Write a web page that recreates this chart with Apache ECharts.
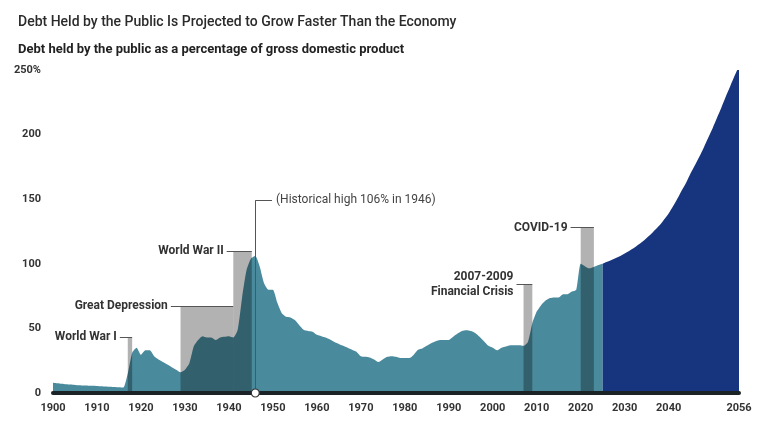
<!DOCTYPE html>
<html>
<head>
<meta charset="utf-8">
<title>Debt Held by the Public</title>
<script src="https://cdn.jsdelivr.net/npm/echarts@6/dist/echarts.min.js"></script>
<style>
  html, body { margin: 0; padding: 0; background: #fff; }
  #chart { width: 760px; height: 428px; }
</style>
</head>
<body>
<div id="chart"></div>
<script>
// debt held by the public, % of GDP
var histStart = 1900;
var histDebt = [
  8, 7.6, 7.2, 6.8, 6.5, 6.2, 6, 5.8, 5.7, 5.6,          // 1900s
  5.4, 5.2, 5, 4.8, 4.6, 4.4, 4.2, 15, 31, 35,           // 1910s
  29.5, 33, 33, 28.5, 26, 24, 22, 20, 18, 16,            // 1920s
  18, 23, 36, 41, 44, 43, 43, 41, 43, 43.5,              // 1930s
  44, 43, 49, 74, 95, 104, 106, 98, 85, 80,              // 1940s
  80, 70, 62, 59, 58.5, 56.5, 52.5, 49, 48, 47.5,        // 1950s
  45, 44, 43, 41.5, 39.5, 38, 36.5, 35, 33.5, 32,        // 1960s
  28.5, 28, 27.5, 26, 24, 26, 28, 28.5, 28, 27,          // 1970s
  27, 27, 29.5, 33.5, 34.5, 36.5, 38.5, 40, 41, 41,      // 1980s
  41, 43.5, 46, 48, 48.5, 48, 46.5, 43.5, 40, 36.5,      // 1990s
  35, 33, 35, 36, 37, 37, 37, 36.5, 39.5, 54,            // 2000s
  63, 68, 71.5, 73.5, 74, 74, 76.5, 76.5, 78.5, 80,      // 2010s
  100, 98, 96.5, 97.5, 99, 100                           // 2020-2025
];
var projStart = 2025;
var projDebt = [
  100, 101.5, 103, 104.5, 106, 108, 110, 112, 114.5, 117,
  120, 123, 126.5, 130, 134.5, 139, 144.5, 150.5, 157, 163,
  170, 176.5, 183, 190, 197.5, 205, 213, 221, 229.5, 237.5,
  245.5, 253
];

// shaded events
var eventNames = ['World War I', 'Great Depression', 'World War II', '2007-2009\nFinancial Crisis', 'COVID-19'];
var eventFrom = [1917, 1929, 1941, 2007, 2020];
var eventTo = [1918, 1941, 1945.2, 2009, 2023];
var eventTop = [43, 67, 110, 84, 128];
var leaderFrom = [1915.2, 1926.8, 1939.5, 2005.4, 2017.7];

var peakYear = 1946;
var peakNote = '(Historical high 106% in 1946)';
var peakNoteLevel = 149;
var peakNoteEnd = 1949.8;

var xLabels = [1900, 1910, 1920, 1930, 1940, 1950, 1960, 1970, 1980, 1990, 2000, 2010, 2020, 2030, 2040, 2056];
var yTop = 250;

var FONT = 'Roboto, "Liberation Sans", sans-serif';

function pairs(start, vals) {
  var out = [];
  for (var i = 0; i < vals.length; i++) out.push([start + i, vals[i]]);
  return out;
}

var bands = [];
var leaders = [];
for (var i = 0; i < eventNames.length; i++) {
  bands.push([{ coord: [eventFrom[i], 0] }, { coord: [eventTo[i], eventTop[i]] }]);
  var multi = eventNames[i].indexOf('\n') > -1;
  leaders.push([
    { coord: [leaderFrom[i], eventTop[i]] },
    { coord: [eventTo[i], eventTop[i]] }
  ]);
  leaders[i][0].label = {
    show: true, position: 'start', formatter: eventNames[i], distance: 3,
    fontWeight: 'bold', fontSize: 12, color: '#333', fontFamily: FONT,
    align: 'right', lineHeight: 15,
    padding: multi ? [15, 0, 0, 0] : 0
  };
}
// historical high callout
leaders.push([{ coord: [peakYear, 0] }, { coord: [peakYear, peakNoteLevel] }]);
leaders.push([
  { coord: [peakYear, peakNoteLevel],
    label: { show: true, position: 'end', formatter: peakNote, distance: 4,
             fontSize: 12, color: '#444', fontFamily: FONT } },
  { coord: [peakNoteEnd, peakNoteLevel] }
]);

var chart = echarts.init(document.getElementById('chart'));
var option = {
  animation: false,
  textStyle: { fontFamily: FONT },
  title: [
    { text: 'Debt Held by the Public Is Projected to Grow Faster Than the Economy',
      left: 13, top: 10,
      textStyle: { fontSize: 14, fontWeight: 500, color: '#2b2b2b', fontFamily: FONT } },
    { text: 'Debt held by the public as a percentage of gross domestic product',
      left: 13, top: 38,
      textStyle: { fontSize: 13, fontWeight: 'bold', color: '#222', fontFamily: FONT } }
  ],
  grid: { left: 53, right: 21, top: 70, bottom: 35 },
  xAxis: {
    type: 'value', min: 1900, max: 2056, interval: 10, z: 6,
    axisLine: { show: true, lineStyle: { color: '#1b2327', width: 4 } },
    axisTick: { show: false },
    splitLine: { show: false },
    axisLabel: {
      customValues: xLabels, margin: 10,
      fontSize: 11, fontWeight: 'bold', color: '#333',
      formatter: function (v) { return String(v); }
    }
  },
  yAxis: {
    type: 'value', min: 0, max: yTop, interval: 50,
    axisLine: { show: false }, axisTick: { show: false }, splitLine: { show: false },
    axisLabel: {
      margin: 12, fontSize: 11, fontWeight: 'bold', color: '#333',
      formatter: function (v) { return v === yTop ? v + '%' : v; }
    }
  },
  series: [
    {
      name: 'Actual', type: 'line', z: 2,
      data: pairs(histStart, histDebt),
      showSymbol: false, smooth: 0.2,
      lineStyle: { width: 0 },
      areaStyle: { color: '#4a8a9d', opacity: 1 }
    },
    {
      name: 'Projected', type: 'line', z: 2,
      data: pairs(projStart, projDebt),
      showSymbol: false, smooth: 0.3,
      lineStyle: { width: 0 },
      areaStyle: { color: '#17347e', opacity: 1 }
    },
    {
      name: 'events', type: 'line', data: [], silent: true,
      markArea: {
        z: 4, silent: true,
        itemStyle: { color: 'rgba(0,0,0,0.3)' },
        label: { show: false },
        data: bands
      },
      markLine: {
        z: 5, silent: true, symbol: ['none', 'none'],
        lineStyle: { color: '#555', width: 1, type: 'solid' },
        label: { show: false },
        emphasis: { disabled: true },
        data: leaders
      },
      markPoint: {
        z: 8, silent: true,
        data: [{ coord: [peakYear, 0], symbol: 'circle', symbolSize: 8,
                 itemStyle: { color: '#fff', borderColor: '#333', borderWidth: 1.2 } }],
        label: { show: false }
      }
    }
  ]
};
chart.setOption(option);
</script>
</body>
</html>
